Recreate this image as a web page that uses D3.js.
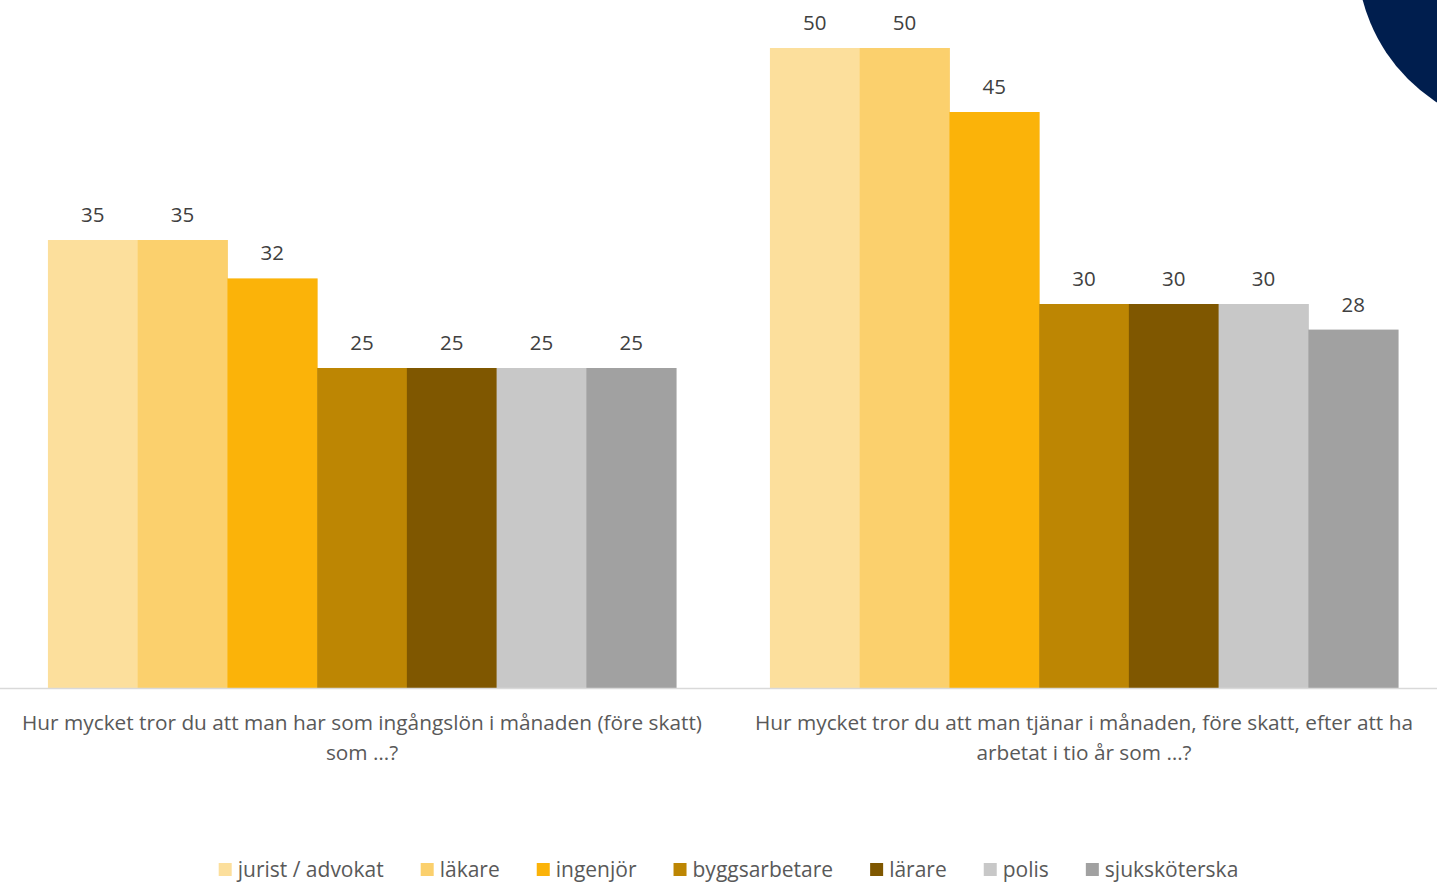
<!DOCTYPE html>
<html><head><meta charset="utf-8">
<script src="https://cdn.jsdelivr.net/npm/d3@7"></script>
<style>body{margin:0;background:#fff;overflow:hidden}svg{display:block}</style>
</head><body>
<svg id="c" width="1437" height="882"></svg>
<script>
const categories = ["Hur mycket tror du att man har som ingångslön i månaden (före skatt) som …?",
  "Hur mycket tror du att man tjänar i månaden, före skatt, efter att ha arbetat i tio år som …?"];
const categoryLines = [["Hur mycket tror du att man har som ingångslön i månaden (före skatt)","som …?"],
  ["Hur mycket tror du att man tjänar i månaden, före skatt, efter att ha","arbetat i tio år som …?"]];
const series = ["jurist / advokat","läkare","ingenjör","byggsarbetare","lärare","polis","sjuksköterska"];
const colors = ["#FCDF9C","#FBD06D","#FBB309","#BD8603","#7F5700","#C8C8C8","#A1A1A1"];
const values = [
  [35,35,32,25,25,25,25],
  [50,50,45,30,30,30,28]
];

const svg = d3.select("#c");
const font = "'Open Sans', sans-serif";

// decorative circle
svg.append("circle").attr("cx",1531).attr("cy",-44).attr("r",174).attr("fill","#001E4E");

const x0 = d3.scaleBand().domain(d3.range(categories.length)).range([1,1445]).paddingInner(0.13).paddingOuter(0.065);
const x1 = d3.scaleBand().domain(d3.range(series.length)).range([0,x0.bandwidth()]).padding(0);
const y = d3.scaleLinear().domain([0,50]).range([688,48]);

const g = svg.append("g");
values.forEach((vals,ci)=>{
  const gg = g.append("g").attr("transform",`translate(${x0(ci)},0)`);
  gg.selectAll("rect").data(vals).join("rect")
    .attr("x",(d,i)=>x1(i)).attr("width",x1.bandwidth()+0.5)
    .attr("y",d=>y(d)).attr("height",d=>y(0)-y(d))
    .attr("fill",(d,i)=>colors[i]);
  gg.selectAll("text").data(vals).join("text")
    .attr("x",(d,i)=>x1(i)+x1.bandwidth()/2).attr("y",d=>y(d)-18)
    .attr("text-anchor","middle").attr("font-family",font).attr("font-size",20.5)
    .attr("fill","#404040").text(d=>d);
});

// axis line
svg.append("line").attr("x1",0).attr("x2",1437).attr("y1",688.5).attr("y2",688.5)
  .attr("stroke","#D9D9D9").attr("stroke-width",1.5);

// category labels
categoryLines.forEach((lines,ci)=>{
  const cx = x0(ci)+x0.bandwidth()/2;
  lines.forEach((ln,li)=>{
    svg.append("text").attr("x",cx).attr("y",730+li*30).attr("text-anchor","middle")
      .attr("font-family",font).attr("font-size",20.8).attr("fill","#595959").text(ln);
  });
});

// legend
const lg = svg.append("g");
let xpos = 0;
const gap = 37;
series.forEach((s,i)=>{
  const it = lg.append("g").attr("transform",`translate(${xpos},0)`);
  it.append("rect").attr("x",0).attr("y",-14).attr("width",13).attr("height",13).attr("fill",colors[i]);
  const t = it.append("text").attr("x",19).attr("y",0).attr("font-family",font).attr("font-size",21)
    .attr("fill","#595959").text(s);
  const w = 19 + t.node().getComputedTextLength();
  xpos += w + gap;
});
const total = xpos - gap;
lg.attr("transform",`translate(${(1437-total)/2 + 10},877)`);
</script>
</body></html>
